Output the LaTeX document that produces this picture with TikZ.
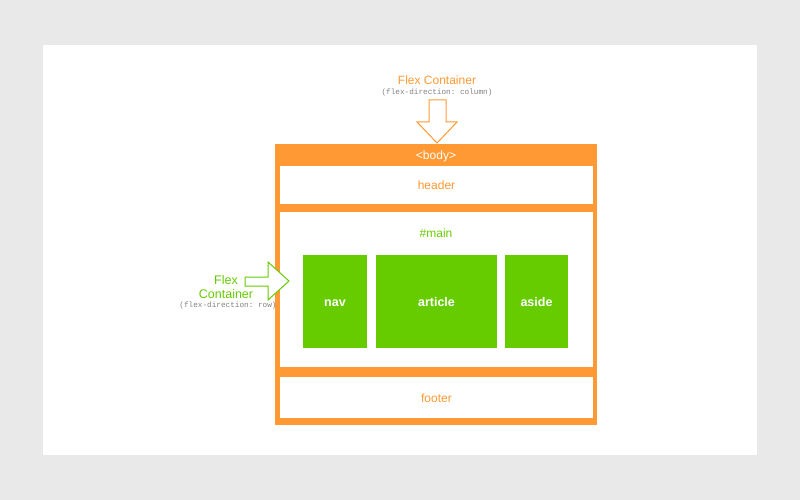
\documentclass[tikz,border=0pt]{standalone}
\usepackage{fontspec}
\setmainfont{Liberation Sans}
\setmonofont{Liberation Mono}
\definecolor{bggray}{RGB}{233,233,233}
\definecolor{flexorange}{RGB}{255,153,51}
\definecolor{flexgreen}{RGB}{102,204,0}
\definecolor{monogray}{RGB}{130,130,130}
\begin{document}
\begin{tikzpicture}[x=1pt,y=-1pt,
  box/.style={inner sep=0pt, outer sep=0pt, anchor=north west, text height=9pt, text depth=0pt, font=\fontsize{12}{14}\selectfont},
  orangebox/.style={box, fill=flexorange},
  whitebox/.style={box, fill=white, text=flexorange},
  greenbox/.style={box, fill=flexgreen, text=white, font=\bfseries\fontsize{12.5}{14}\selectfont},
  lbl/.style={inner sep=0pt, font=\fontsize{12}{14}\selectfont},
  monolbl/.style={inner sep=0pt, text=monogray, font=\ttfamily\fontsize{7.7}{9}\selectfont},
  hollowarrow/.style={draw, fill=white, line width=1pt, line join=miter}
]
\useasboundingbox (0,0) rectangle (800,500);
\fill[bggray] (0,0) rectangle (800,500);
\fill[white] (43,45) rectangle (757,455);

% body container
\node[orangebox, minimum width=322pt, minimum height=281pt] (body) at (275,144) {};
\node[lbl, text=white] (bodylbl) at (436,156.5) {<body>};
\node[whitebox, minimum width=313pt, minimum height=38pt] (header) at (280,166) {header};
\node[whitebox, minimum width=313pt, minimum height=155pt] (main) at (280,212) {};
\node[lbl, text=flexgreen] (mainlbl) at (436,233.5) {\#main};
\node[whitebox, minimum width=313pt, minimum height=41pt] (footer) at (280,377) {footer};

% flex items
\node[greenbox, minimum width=64pt, minimum height=93pt] (nav) at (303,255) {nav};
\node[greenbox, minimum width=121pt, minimum height=93pt] (article) at (376,255) {article};
\node[greenbox, minimum width=63pt, minimum height=93pt] (aside) at (505,255) {aside};

% top label and arrow
\node[lbl, text=flexorange] (toplbl) at (437,80) {Flex Container};
\node[monolbl] (topmono) at (437,93) {(flex-direction: column)};
\draw[hollowarrow, draw=flexorange] (429,100) -- (446,100) -- (446,122) -- (457,122) -- (437,143) -- (417,122) -- (429,122) -- cycle;

% left label and arrow
\node[lbl, text=flexgreen, align=center, font=\fontsize{12.5}{14}\selectfont] (leftlbl) at (226,287) {Flex\\[-0.5pt]Container};
\node[monolbl] (leftmono) at (228,306) {(flex-direction: row)};
\draw[hollowarrow, draw=flexgreen] (245,277) -- (268,277) -- (268,262) -- (289,281) -- (268,300) -- (268,286) -- (245,286) -- cycle;
\end{tikzpicture}
\end{document}
